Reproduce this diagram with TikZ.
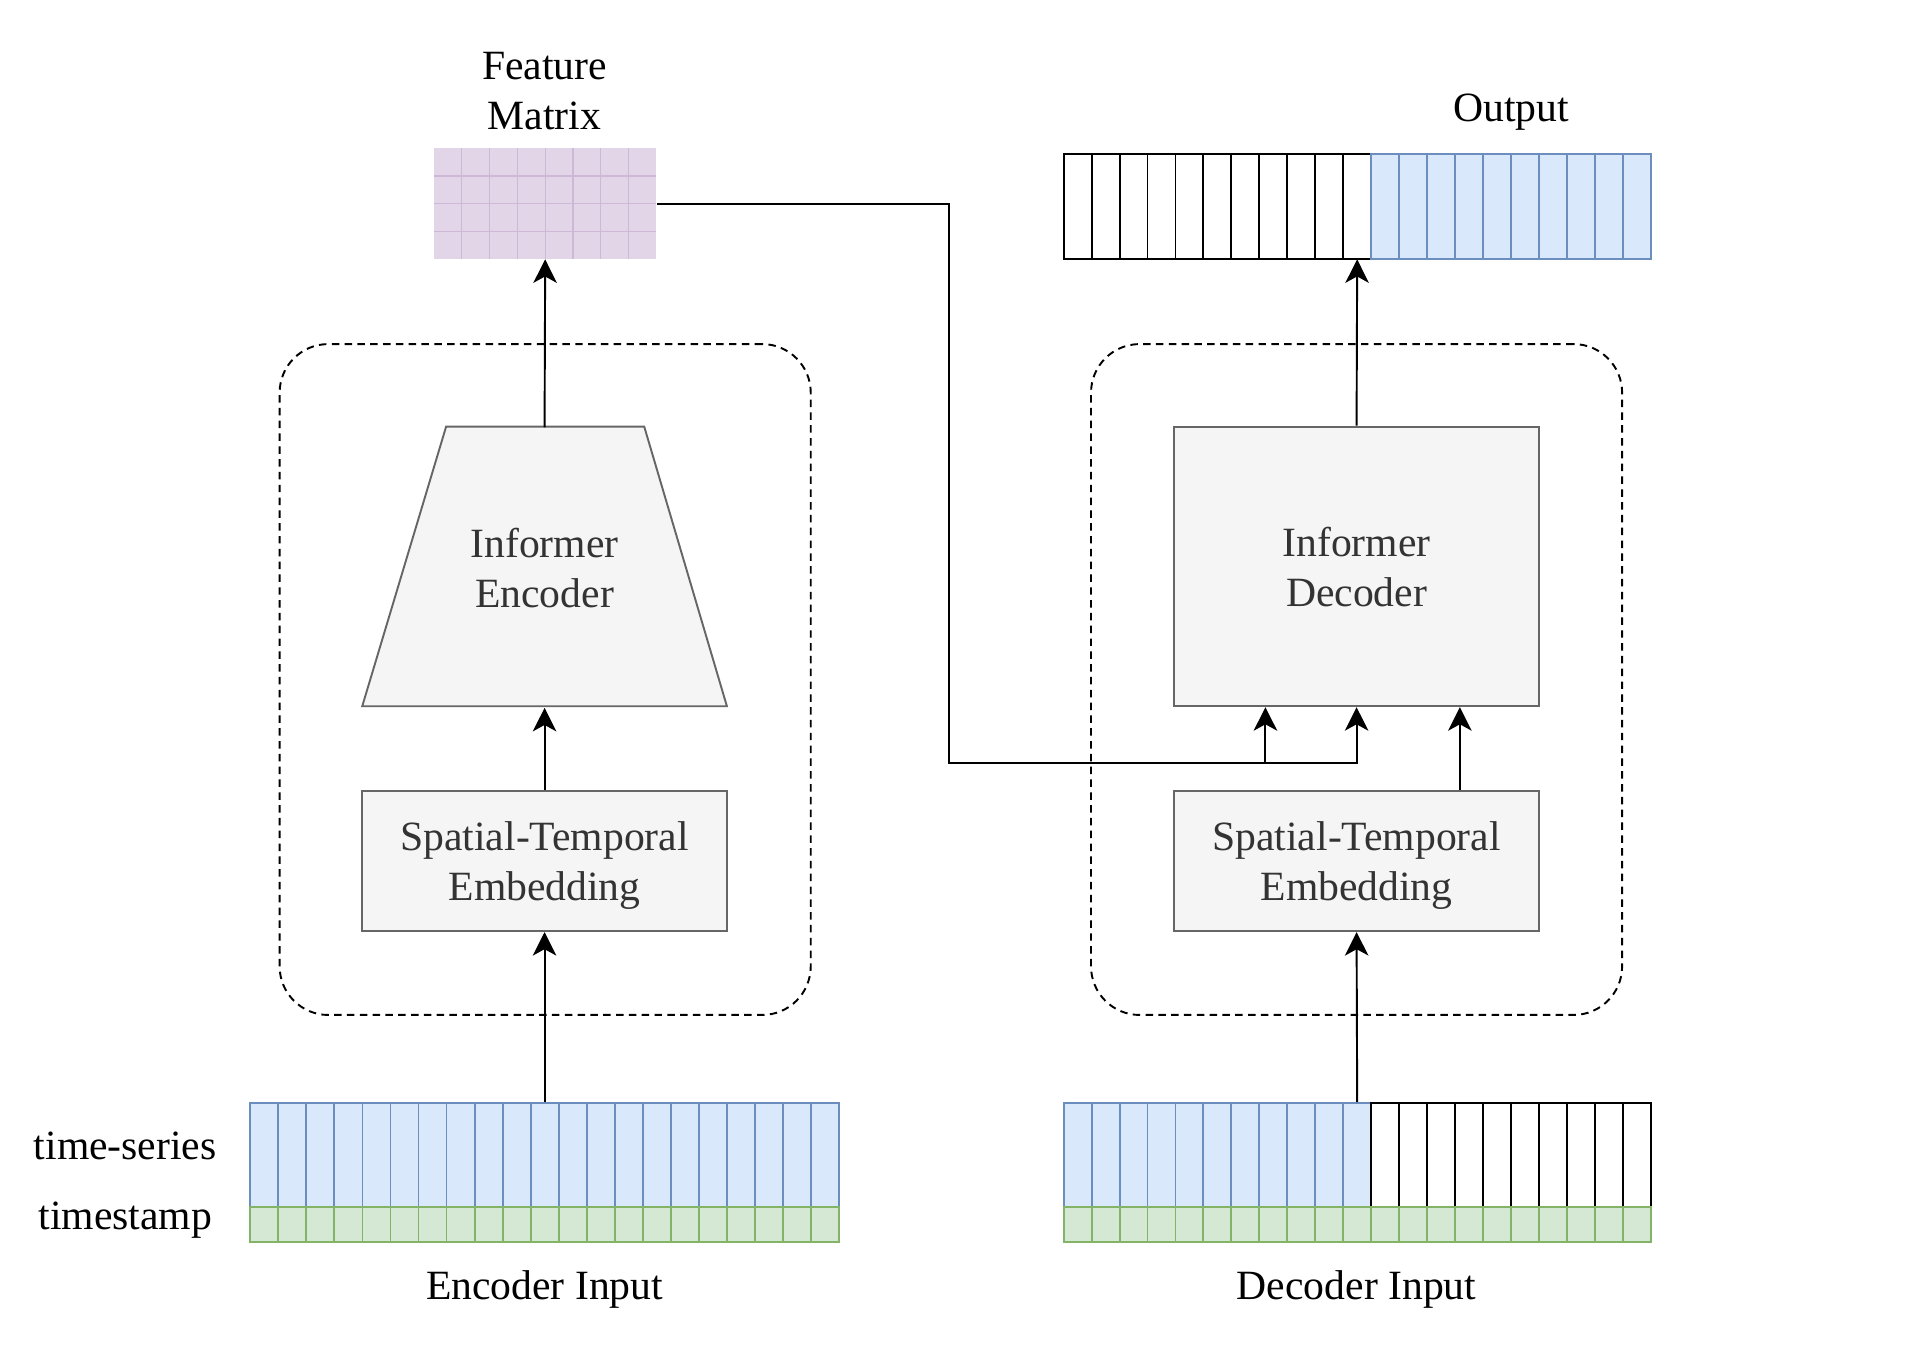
\documentclass[tikz,border=0pt]{standalone}
\usepackage{fontspec}
\setmainfont{Liberation Serif}
\usepackage{tikz}
\usetikzlibrary{arrows.meta}
\definecolor{blueF}{HTML}{DAE8FC}
\definecolor{blueD}{HTML}{6C8EBF}
\definecolor{greenF}{HTML}{D5E8D4}
\definecolor{greenD}{HTML}{82B366}
\definecolor{purpF}{HTML}{E1D5E7}
\definecolor{purpD}{HTML}{CDB8D8}
\definecolor{grayF}{HTML}{F5F5F5}
\definecolor{grayD}{HTML}{666666}
\definecolor{txtG}{HTML}{333333}

\begin{document}
\begin{tikzpicture}[x=0.02cm,y=-0.02cm,
   every node/.style={font=\fontsize{19.5}{23.5}\selectfont,align=center},
   block/.style={draw=grayD,fill=grayF,text=txtG,line width=0.9pt,text depth=0pt,
      minimum width=6cm,minimum height=2.3cm},
   group/.style={draw,dashed,dash pattern=on 3.5pt off 2.5pt,line width=0.9pt,
      rounded corners=0.8cm,minimum width=8.74cm,minimum height=11.04cm},
   holder/.style={inner sep=0pt,minimum width=9.68cm,minimum height=2.3cm},
   cellB/.style={draw=blueD,fill=blueF,line width=0.9pt},
   cellG/.style={draw=greenD,fill=greenF,line width=0.9pt},
   cellW/.style={draw=black,fill=white,line width=0.9pt},
   arr/.style={-{Stealth[length=11pt,width=11pt,inset=3pt]},line width=0.9pt}]
\useasboundingbox (0,0) rectangle (1568,1107);

% dashed groups
\node[group] (encgrp) at (448.5,559) {};
\node[group] (decgrp) at (1116,559) {};

% encoder side
\draw[draw=grayD,fill=grayF,line width=0.9pt]
   (298,581) -- (367,351) -- (530,351) -- (598,581) -- cycle;
\node[text=txtG,inner sep=0pt,minimum width=3.26cm,minimum height=4.6cm] (encoder) at (448,467) {Informer\\Encoder};
\node[block] (encemb) at (448,708.5) {Spatial-Temporal\\Embedding};
\node[inner sep=0pt,minimum width=3.66cm,minimum height=1.82cm,fill=purpF] (featmat) at (448.5,167.5) {};
\foreach \i in {1,...,7}
  \draw[purpD,line width=0.6pt] ({357+\i*22.875},122) -- ++(0,91);
\foreach \j in {1,2,3}
  \draw[purpD,line width=0.6pt] (357,{122+\j*22.75}) -- ++(183,0);
\node (featlbl) at (448,75) {Feature\\Matrix};

\node[holder] (encin) at (448,964.5) {};
\foreach \i in {0,...,20} {
  \draw[cellB] ({206+\i*23.048},907) rectangle ++(23.048,86);
  \draw[cellG] ({206+\i*23.048},993) rectangle ++(23.048,29);
}
\node (tslbl) at (103,943) {time-series};
\node (stlbl) at (103,1004) {timestamp};
\node (enclbl) at (448,1061) {Encoder Input};

% decoder side
\node[block,minimum height=4.6cm] (decoder) at (1116,466) {Informer\\Decoder};
\node[block] (decemb) at (1116,708.5) {Spatial-Temporal\\Embedding};

\node[inner sep=0pt,minimum width=9.66cm,minimum height=1.72cm] (outarr) at (1116.5,170) {};
\foreach \i in {0,...,10}
  \draw[cellW] ({875+\i*23},127) rectangle ++(23,86);
\foreach \i in {11,...,20}
  \draw[cellB] ({875+\i*23},127) rectangle ++(23,86);
\node (outlbl) at (1243,92) {Output};

\node[holder,minimum width=9.66cm] (decin) at (1116.5,964.5) {};
\foreach \i in {0,...,10}
  \draw[cellB] ({875+\i*23},907) rectangle ++(23,86);
\foreach \i in {11,...,20}
  \draw[cellW] ({875+\i*23},907) rectangle ++(23,86);
\foreach \i in {0,...,20}
  \draw[cellG] ({875+\i*23},993) rectangle ++(23,29);
\node (declbl) at (1116,1061) {Decoder Input};

% connectors
\draw[arr] (encin.north) -- (encemb.south);
\draw[arr] (encemb.north) -- (encoder.south);
\draw[arr] (encoder.north) -- (featmat.south);
\draw[arr] (decin.north) -- (decemb.south);
\draw[arr] ([xshift=1.7cm]decemb.north) -- ([xshift=1.7cm]decoder.south);
\draw[arr] (decoder.north) -- (outarr.south);
\coordinate (turn) at (781,628);
\coordinate (br) at ([xshift=-1.5cm]decoder.south);
\draw[arr] (featmat.east) -| (turn) -- (turn -| decoder.south) -- (decoder.south);
\draw[arr] (br |- turn) -- (br);
\end{tikzpicture}
\end{document}
